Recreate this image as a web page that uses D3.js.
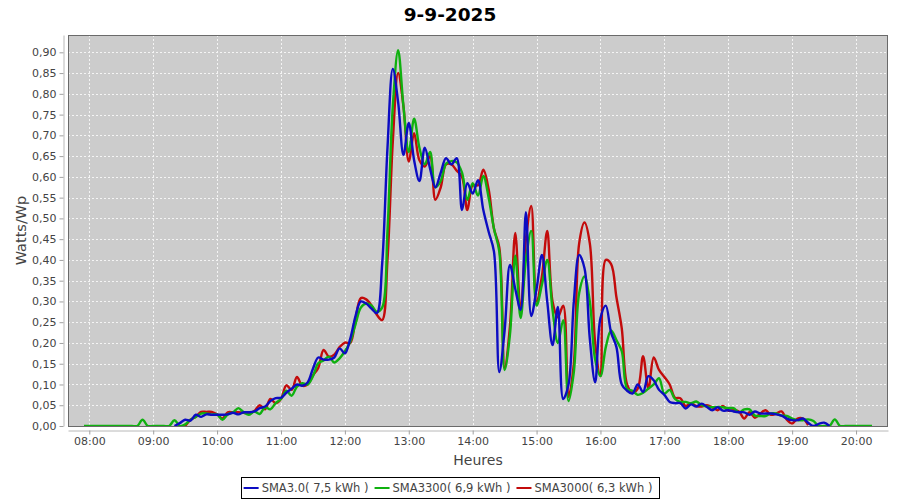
<!DOCTYPE html>
<html><head><meta charset="utf-8">
<script src="https://cdn.jsdelivr.net/npm/d3@7"></script>
<style>
body{margin:0;background:#fff}
svg{display:block}
text{font-family:"DejaVu Sans",sans-serif}
</style>
</head><body>
<svg id="c" width="900" height="500"></svg>
<script>
const chartTitle = "9-9-2025";
const xAxisTitle = "Heures";
const yAxisTitle = "Watts/Wp";
const xDomain = ["07:40", "20:30"];
const yMax = 0.9417;

const times = [
"07:55",
"08:00","08:05","08:10","08:15","08:20","08:25","08:30","08:35","08:40","08:45","08:50","08:55",
"09:00","09:05","09:10","09:15","09:20","09:25","09:30","09:35","09:40","09:45","09:50","09:55",
"10:00","10:05","10:10","10:15","10:20","10:25","10:30","10:35","10:40","10:45","10:50","10:55",
"11:00","11:05","11:10","11:15","11:20","11:25","11:30","11:35","11:40","11:45","11:50","11:55",
"12:00","12:05","12:10","12:15","12:20","12:25","12:30","12:35","12:40","12:45","12:50","12:55",
"13:00","13:05","13:10","13:15","13:20","13:25","13:30","13:35","13:40","13:45","13:50","13:55",
"14:00","14:05","14:10","14:15","14:20","14:25","14:30","14:35","14:40","14:45","14:50","14:55",
"15:00","15:05","15:10","15:15","15:20","15:25","15:30","15:35","15:40","15:45","15:50","15:55",
"16:00","16:05","16:10","16:15","16:20","16:25","16:30","16:35","16:40","16:45","16:50","16:55",
"17:00","17:05","17:10","17:15","17:20","17:25","17:30","17:35","17:40","17:45","17:50","17:55",
"18:00","18:05","18:10","18:15","18:20","18:25","18:30","18:35","18:40","18:45","18:50","18:55",
"19:00","19:05","19:10","19:15","19:20","19:25","19:30","19:35","19:40","19:45","19:50","19:55",
"20:00","20:05","20:10","20:15"
];

const seriesNames = ["SMA3.0( 7,5 kWh )", "SMA3300( 6,9 kWh )", "SMA3000( 6,3 kWh )"];
const seriesColors = ["#0c0cc2", "#0fb10f", "#c30b0b"];
const seriesStart = ["09:20", "07:55", "09:30"];

const sma30Values = [
0, 0.007, 0.015, 0.013, 0.027, 0.022, 0.028, 0.027,
0.027, 0.027, 0.028, 0.032, 0.028, 0.033, 0.033, 0.035, 0.043, 0.047, 0.06, 0.067,
0.068, 0.08, 0.09, 0.10, 0.097, 0.105, 0.138, 0.165, 0.16, 0.16, 0.165, 0.187,
0.175, 0.21, 0.265, 0.30, 0.295, 0.283, 0.272, 0.39, 0.67, 0.86, 0.78, 0.653,
0.73, 0.64, 0.59, 0.67, 0.62, 0.575, 0.61, 0.645, 0.63, 0.645, 0.52, 0.585,
0.56, 0.592, 0.52, 0.468, 0.42, 0.13, 0.23, 0.388, 0.33, 0.28, 0.515, 0.265,
0.33, 0.412, 0.30, 0.195, 0.287, 0.065, 0.10, 0.30, 0.412, 0.38, 0.21, 0.105,
0.26, 0.29, 0.225, 0.19, 0.10, 0.085, 0.078, 0.10, 0.082, 0.12, 0.11, 0.087,
0.075, 0.058, 0.055, 0.055, 0.042, 0.052, 0.047, 0.054, 0.046, 0.038, 0.045, 0.037,
0.038, 0.035, 0.033, 0.033, 0.027, 0.035, 0.03, 0.03, 0.03, 0.028, 0.025, 0.018,
0.014, 0.014, 0.018, 0.008, 0, 0.005, 0.008, 0
];

const sma3300Values = [
0,
0, 0, 0, 0, 0, 0, 0, 0, 0, 0, 0.015, 0,
0, 0, 0, 0, 0.014, 0, 0.004, 0.015, 0.022, 0.03, 0.03, 0.028,
0.028, 0.015, 0.028, 0.033, 0.043, 0.033, 0.027, 0.035, 0.029, 0.045, 0.04, 0.055,
0.065, 0.085, 0.073, 0.095, 0.103, 0.10, 0.12, 0.151, 0.158, 0.167, 0.153, 0.163,
0.18, 0.203, 0.245, 0.285, 0.295, 0.29, 0.275, 0.285, 0.47, 0.77, 0.905, 0.77,
0.66, 0.74, 0.67, 0.63, 0.66, 0.575, 0.59, 0.632, 0.638, 0.635, 0.61, 0.545,
0.585, 0.555, 0.602, 0.55, 0.475, 0.42, 0.135, 0.22, 0.41, 0.26, 0.40, 0.47,
0.29, 0.34, 0.40, 0.28, 0.20, 0.255, 0.06, 0.13, 0.32, 0.36, 0.30, 0.16,
0.12, 0.19, 0.23, 0.207, 0.18, 0.09, 0.085, 0.075, 0.08, 0.09, 0.10, 0.115,
0.078, 0.087, 0.065, 0.058, 0.058, 0.055, 0.059, 0.05, 0.047, 0.045, 0.046, 0.045,
0.043, 0.043, 0.033, 0.04, 0.04, 0.025, 0.024, 0.024, 0.03, 0.03, 0.025, 0.024,
0.018, 0.014, 0.014, 0.016, 0.012, 0, 0, 0, 0.016, 0, 0, 0,
0, 0, 0, 0
];

const sma3000Values = [
0, 0.015, 0.022, 0.034, 0.034, 0.034,
0.028, 0.018, 0.033, 0.033, 0.033, 0.032, 0.03, 0.036, 0.05, 0.04, 0.065, 0.055,
0.065, 0.098, 0.087, 0.118, 0.097, 0.10, 0.122, 0.14, 0.183, 0.167, 0.172, 0.19,
0.201, 0.20, 0.258, 0.308, 0.305, 0.29, 0.268, 0.255, 0.40, 0.685, 0.85, 0.77,
0.637, 0.705, 0.64, 0.625, 0.65, 0.545, 0.575, 0.63, 0.63, 0.615, 0.60, 0.52,
0.58, 0.58, 0.617, 0.57, 0.475, 0.43, 0.14, 0.24, 0.465, 0.275, 0.45, 0.53,
0.30, 0.36, 0.47, 0.30, 0.262, 0.29, 0.07, 0.15, 0.44, 0.49, 0.44, 0.20,
0.12, 0.40, 0.39, 0.31, 0.235, 0.10, 0.08, 0.09, 0.168, 0.09, 0.165, 0.135,
0.118, 0.10, 0.068, 0.067, 0.048, 0.055, 0.048, 0.047, 0.05, 0.045, 0.038, 0.048,
0.037, 0.038, 0.035, 0.018, 0.033, 0.02, 0.03, 0.038, 0.027, 0.03, 0.035, 0.015,
0.006, 0.018, 0.018, 0.002
];

const yTicks = [0,0.05,0.10,0.15,0.20,0.25,0.30,0.35,0.40,0.45,0.50,0.55,0.60,0.65,0.70,0.75,0.80,0.85,0.90];
const xTickLabels = ["08:00","09:00","10:00","11:00","12:00","13:00","14:00","15:00","16:00","17:00","18:00","19:00","20:00"];

const seriesValues = [sma30Values, sma3300Values, sma3000Values];

// ---- layout ----
const plot = {left: 68, right: 888, top: 35, bottom: 426};
const parse = d3.timeParse("%H:%M");
const x = d3.scaleTime().domain(xDomain.map(parse)).range([plot.left, plot.right]);
const y = d3.scaleLinear().domain([0, yMax]).range([plot.bottom, plot.top]);
const svg = d3.select("#c");

svg.append("rect").attr("width", 900).attr("height", 500).attr("fill", "#fff");

// title
svg.append("text").attr("x", 450).attr("y", 21).attr("text-anchor", "middle")
  .attr("font-size", 18.5).attr("font-weight", "bold").attr("fill", "#000").text(chartTitle);

// plot background
svg.append("rect").attr("x", plot.left).attr("y", plot.top)
  .attr("width", plot.right - plot.left).attr("height", plot.bottom - plot.top)
  .attr("fill", "#cccccc");

// grid
const grid = svg.append("g");
grid.selectAll("line.h").data(yTicks).join("line")
  .attr("x1", plot.left).attr("x2", plot.right)
  .attr("y1", d => Math.round(y(d)) + 0.5).attr("y2", d => Math.round(y(d)) + 0.5)
  .attr("stroke", "#f4f4f4").attr("stroke-width", 1).attr("stroke-dasharray", "2,2");
grid.selectAll("line.v").data(xTickLabels.map(parse)).join("line")
  .attr("y1", plot.top).attr("y2", plot.bottom)
  .attr("x1", d => Math.round(x(d)) + 0.5).attr("x2", d => Math.round(x(d)) + 0.5)
  .attr("stroke", "#f4f4f4").attr("stroke-width", 1).attr("stroke-dasharray", "2,2");

// series (draw last series first so the first is on top)
const line = d3.line()
  .x(d => x(d.t)).y(d => y(d.v))
  .curve(d3.curveCatmullRom.alpha(0.5));
const clipId = "plotclip";
svg.append("clipPath").attr("id", clipId).append("rect")
  .attr("x", plot.left).attr("y", plot.top)
  .attr("width", plot.right - plot.left).attr("height", plot.bottom - plot.top);
const seriesG = svg.append("g").attr("clip-path", `url(#${clipId})`);
for (let s = seriesValues.length - 1; s >= 0; s--) {
  const start = times.indexOf(seriesStart[s]);
  const pts = seriesValues[s].map((v, i) => ({t: parse(times[start + i]), v}));
  seriesG.append("path").datum(pts).attr("d", line)
    .attr("fill", "none").attr("stroke", seriesColors[s])
    .attr("stroke-width", 2.4).attr("stroke-linejoin", "round");
}

// plot outline
svg.append("rect").attr("x", plot.left + 0.5).attr("y", plot.top + 0.5)
  .attr("width", plot.right - plot.left - 1).attr("height", plot.bottom - plot.top)
  .attr("fill", "none").attr("stroke", "#6a6a6a").attr("stroke-width", 1);

// axes
const fmtY = d => d3.format(".2f")(d).replace(".", ",");
const yAxis = svg.append("g").attr("transform", `translate(${plot.left - 4.5},0)`)
  .call(d3.axisLeft(y).tickValues(yTicks).tickFormat(fmtY).tickSize(4).tickSizeOuter(0).tickPadding(3));
const xAxis = svg.append("g").attr("transform", `translate(0,${plot.bottom + 4.5})`)
  .call(d3.axisBottom(x).tickValues(xTickLabels.map(parse)).tickFormat(d3.timeFormat("%H:%M")).tickSize(4).tickSizeOuter(0).tickPadding(3));
[yAxis, xAxis].forEach(a => {
  a.select(".domain").attr("stroke", "#b8b8b8");
  a.selectAll(".tick line").attr("stroke", "#a0a0a0");
  a.selectAll(".tick text").attr("fill", "#444").attr("font-size", 11).attr("font-family", "DejaVu Sans, sans-serif");
});

// axis titles
svg.append("text").attr("x", (plot.left + plot.right) / 2).attr("y", 465)
  .attr("text-anchor", "middle").attr("font-size", 14).attr("fill", "#444").text(xAxisTitle);
svg.append("text").attr("transform", `translate(26,${(plot.top + plot.bottom) / 2}) rotate(-90)`)
  .attr("text-anchor", "middle").attr("font-size", 14.5).attr("fill", "#444").text(yAxisTitle);

// legend
const legBox = svg.append("g");
const legRect = legBox.append("rect");
const leg = legBox.append("g");
let cx = 0;
seriesNames.forEach((name, i) => {
  const g = leg.append("g");
  g.append("line").attr("x1", cx + 2).attr("x2", cx + 17).attr("y1", 0).attr("y2", 0)
    .attr("stroke", seriesColors[i]).attr("stroke-width", 2);
  const t = g.append("text").attr("x", cx + 20).attr("y", 4).attr("font-size", 11.5)
    .attr("fill", "#444").text(name);
  cx += 20 + t.node().getComputedTextLength() + 4;
});
const legW = cx + 2;
const legX = 450 - legW / 2;
leg.attr("transform", `translate(${legX},488)`);
legRect.attr("x", Math.round(legX) - 0.5).attr("y", 477.5)
  .attr("width", Math.round(legW) + 1).attr("height", 21)
  .attr("fill", "#fff").attr("stroke", "#000").attr("stroke-width", 1);
</script>
</body></html>
